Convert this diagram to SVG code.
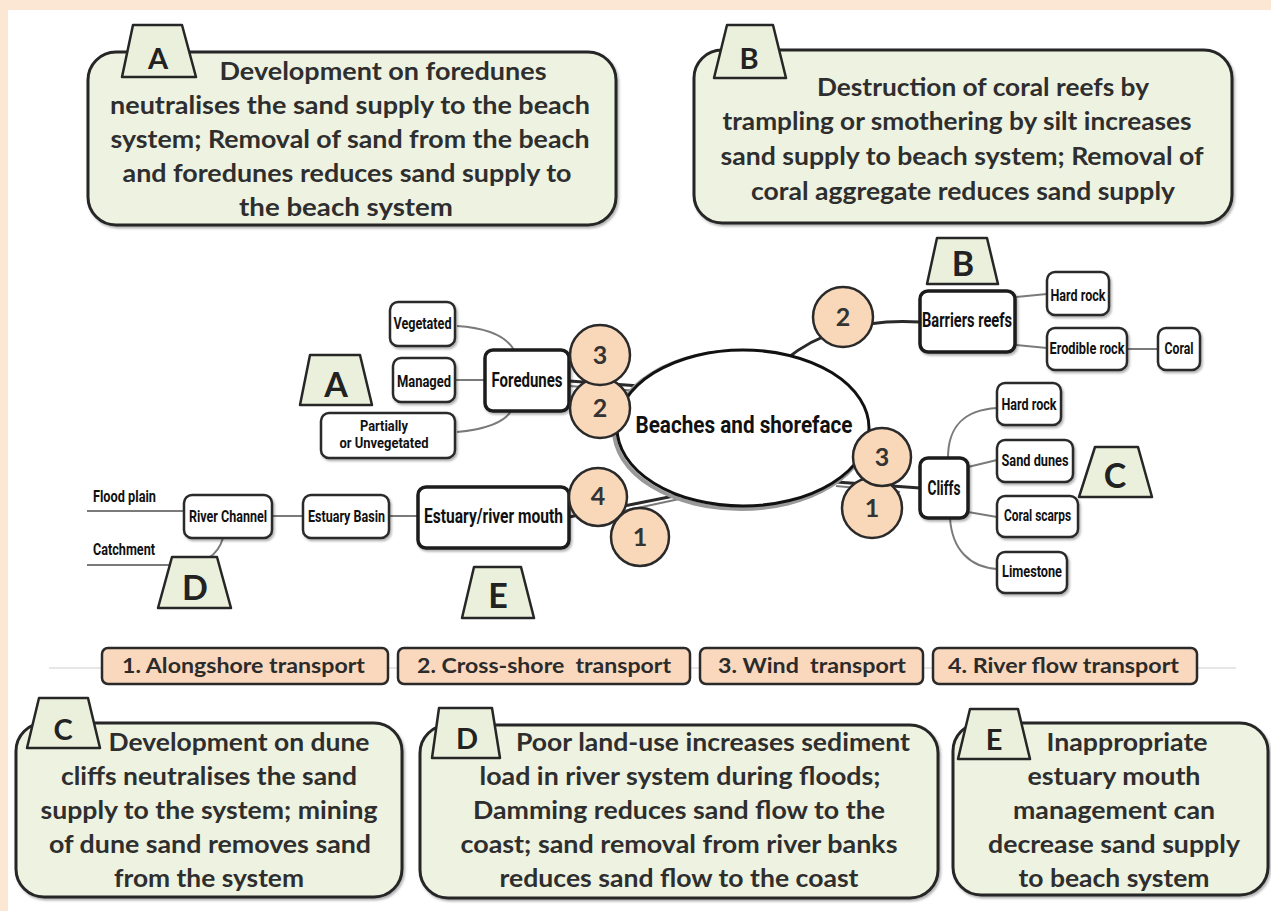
<svg xmlns="http://www.w3.org/2000/svg" width="1271" height="911" viewBox="0 0 1271 911">
<defs>
<filter id="sh" x="-10%" y="-10%" width="130%" height="140%">
<feDropShadow dx="1.5" dy="2" stdDeviation="1.2" flood-color="#000" flood-opacity="0.3"/>
</filter>
<style>
.big{fill:#EEF2E1;stroke:#262626;stroke-width:3}
.tab{fill:#EBF0DC;stroke:#262626;stroke-width:2.5;stroke-linejoin:round}
.bt{font-family:Lato,'Liberation Sans',sans-serif;font-weight:700;font-size:24px;fill:#2e2e2e;text-anchor:middle}
.tl{font-family:Lato,'Liberation Sans',sans-serif;font-weight:700;font-size:29px;fill:#222;text-anchor:middle}
.ml{font-family:Lato,'Liberation Sans',sans-serif;font-weight:700;font-size:34px;fill:#222;text-anchor:middle}
.nd{fill:#fff;stroke:#2a2a2a;stroke-width:2.5}
.nd2{fill:#fff;stroke:#1a1a1a;stroke-width:3.5}
.nl{font-family:'Liberation Sans Narrow',Roboto,sans-serif;font-weight:700;font-size:16px;fill:#111;text-anchor:middle}
.nl2{font-family:'Liberation Sans Narrow',Roboto,sans-serif;font-weight:700;font-size:20px;fill:#111;text-anchor:middle}
.cir{fill:#F9D7B9;stroke:#2a2a2a;stroke-width:2.5}
.dg{font-family:Lato,'Liberation Sans',sans-serif;font-weight:700;font-size:25px;fill:#333;text-anchor:middle}
.thin{fill:none;stroke:#7a7a7a;stroke-width:2}
.thick{fill:none;stroke:#2a2a2a;stroke-width:3}
.lg{fill:#FAD8BD;stroke:#2a2a2a;stroke-width:2.5}
.lt{font-family:Lato,'Liberation Sans',sans-serif;font-weight:700;font-size:20px;fill:#2b2b2b;text-anchor:middle}
</style>
</defs>
<rect width="1271" height="911" fill="#fff"/>
<rect width="1271" height="10" fill="#FCE7D4"/>
<rect width="8" height="911" fill="#FCE7D4"/>

<g id="boxA">
<rect class="big" x="88" y="52" width="528" height="173" rx="28" filter="url(#sh)"/>
<polygon class="tab" points="133,25 182,25 196,77 122,77"/>
<text class="tl" x="158" y="69">A</text>
<text class="bt" x="383" y="80" textLength="327" lengthAdjust="spacingAndGlyphs">Development on foredunes</text>
<text class="bt" x="350" y="114" textLength="480" lengthAdjust="spacingAndGlyphs">neutralises the sand supply to the beach</text>
<text class="bt" x="350" y="148" textLength="479" lengthAdjust="spacingAndGlyphs">system; Removal of sand from the beach</text>
<text class="bt" x="347" y="182" textLength="449" lengthAdjust="spacingAndGlyphs">and foredunes reduces sand supply to</text>
<text class="bt" x="346" y="216" textLength="214" lengthAdjust="spacingAndGlyphs">the beach system</text>
</g>

<g id="boxB">
<rect class="big" x="694" y="50" width="538" height="173" rx="28" filter="url(#sh)"/>
<polygon class="tab" points="727,25 773,25 786,78 714,78"/>
<text class="tl" x="749" y="69">B</text>
<text class="bt" x="983" y="96" textLength="332" lengthAdjust="spacingAndGlyphs">Destruction of coral reefs by</text>
<text class="bt" x="957" y="130" textLength="469" lengthAdjust="spacingAndGlyphs">trampling or smothering by silt increases</text>
<text class="bt" x="962" y="165" textLength="483" lengthAdjust="spacingAndGlyphs">sand supply to beach system; Removal of</text>
<text class="bt" x="963" y="200" textLength="424" lengthAdjust="spacingAndGlyphs">coral aggregate reduces sand supply</text>
</g>

<g id="connectors">
<path class="thin" d="M457,326 C488,328 506,336 514,350"/>
<path class="thin" d="M455,380 L485,380"/>
<path class="thin" d="M457,432 C488,429 505,421 511,411"/>
<path class="thin" d="M1015,297 L1047,294"/>
<path class="thin" d="M1015,345 L1047,348"/>
<path class="thin" d="M1127,349 L1158,349"/>
<path class="thin" d="M948,458 C948,425 965,410 997,408"/>
<path class="thin" d="M968,467 L997,460"/>
<path class="thin" d="M968,512 L997,517"/>
<path class="thin" d="M950,518 C952,550 970,567 997,569"/>
<path class="thin" d="M87,511 L184,511"/>
<path class="thin" d="M87,565 L180,565 C205,565 218,555 223,538"/>
<path class="thin" d="M272,516 L303,516"/>
<path class="thin" d="M389,516 L418,516"/>
<path class="thick" d="M569,381 L640,386"/>
<path class="thin" d="M569,386 L640,391"/>
<path class="thick" d="M569,517 L684,494"/>
<path class="thin" d="M600,516 L684,498"/>
<path class="thick" d="M785,360 C815,335 860,318 920,322"/>
<path class="thick" d="M836,482 L920,488"/>
<path class="thin" d="M836,486 L900,492"/>
</g>

<g id="center">
<ellipse cx="741" cy="430" rx="127" ry="79" fill="none" stroke="#999" stroke-width="4"/>
<ellipse cx="743" cy="428" rx="126" ry="78" fill="#fff" stroke="#111" stroke-width="3"/>
<text class="nl2" x="744" y="433" textLength="217" lengthAdjust="spacingAndGlyphs" style="font-size:23px">Beaches and shoreface</text>
</g>

<g id="foredunes">
<rect class="nd" x="390" y="302" width="65" height="44" rx="8" filter="url(#sh)"/>
<text class="nl" x="422.5" y="329" textLength="58" lengthAdjust="spacingAndGlyphs">Vegetated</text>
<rect class="nd" x="393" y="358" width="62" height="44" rx="8" filter="url(#sh)"/>
<text class="nl" x="424" y="387" textLength="54" lengthAdjust="spacingAndGlyphs">Managed</text>
<rect class="nd" x="321" y="413" width="134" height="45" rx="8" filter="url(#sh)"/>
<text class="nl" x="384" y="431" textLength="48" lengthAdjust="spacingAndGlyphs" style="font-size:14px">Partially</text>
<text class="nl" x="384" y="448" textLength="89" lengthAdjust="spacingAndGlyphs" style="font-size:14px">or Unvegetated</text>
<rect class="nd2" x="485" y="350" width="84" height="61" rx="8" filter="url(#sh)"/>
<text class="nl2" x="527" y="387" textLength="71" lengthAdjust="spacingAndGlyphs">Foredunes</text>
<polygon class="tab" points="310,355 360,355 372,405 300,405"/>
<text class="ml" x="336" y="397">A</text>
<circle class="cir" cx="600" cy="408" r="30"/>
<text class="dg" x="600" y="417">2</text>
<circle class="cir" cx="600" cy="355" r="30"/>
<text class="dg" x="600" y="364">3</text>
</g>

<g id="barriers">
<circle class="cir" cx="843" cy="317" r="30"/>
<text class="dg" x="843" y="326">2</text>
<rect class="nd2" x="920" y="291" width="95" height="61" rx="8" filter="url(#sh)"/>
<text class="nl2" x="967" y="327" textLength="90" lengthAdjust="spacingAndGlyphs">Barriers reefs</text>
<polygon class="tab" points="937,238 987,238 998,284 927,284"/>
<text class="ml" x="963" y="276">B</text>
<rect class="nd" x="1047" y="272" width="62" height="43" rx="8" filter="url(#sh)"/>
<text class="nl" x="1078" y="301" textLength="55" lengthAdjust="spacingAndGlyphs">Hard rock</text>
<rect class="nd" x="1047" y="328" width="80" height="42" rx="8" filter="url(#sh)"/>
<text class="nl" x="1087" y="354" textLength="75" lengthAdjust="spacingAndGlyphs">Erodible rock</text>
<rect class="nd" x="1158" y="328" width="42" height="42" rx="8" filter="url(#sh)"/>
<text class="nl" x="1179" y="354" textLength="29" lengthAdjust="spacingAndGlyphs">Coral</text>
</g>

<g id="cliffs">
<circle class="cir" cx="872" cy="508" r="30"/>
<text class="dg" x="872" y="517">1</text>
<circle class="cir" cx="882" cy="457" r="29"/>
<text class="dg" x="882" y="466">3</text>
<rect class="nd2" x="920" y="458" width="48" height="60" rx="8" filter="url(#sh)"/>
<text class="nl2" x="944" y="495" textLength="33" lengthAdjust="spacingAndGlyphs">Cliffs</text>
<rect class="nd" x="997" y="383" width="64" height="42" rx="8" filter="url(#sh)"/>
<text class="nl" x="1029" y="410" textLength="55" lengthAdjust="spacingAndGlyphs">Hard rock</text>
<rect class="nd" x="997" y="440" width="76" height="42" rx="8" filter="url(#sh)"/>
<text class="nl" x="1035" y="466" textLength="67" lengthAdjust="spacingAndGlyphs">Sand dunes</text>
<rect class="nd" x="997" y="496" width="81" height="41" rx="8" filter="url(#sh)"/>
<text class="nl" x="1037.5" y="521" textLength="67" lengthAdjust="spacingAndGlyphs">Coral scarps</text>
<rect class="nd" x="997" y="552" width="70" height="41" rx="8" filter="url(#sh)"/>
<text class="nl" x="1032" y="577" textLength="60" lengthAdjust="spacingAndGlyphs">Limestone</text>
<polygon class="tab" points="1095,447 1138,447 1152,497 1079,497"/>
<text class="ml" x="1115" y="488">C</text>
</g>

<g id="estuary">
<text class="nl" x="124.5" y="502" textLength="63" lengthAdjust="spacingAndGlyphs">Flood plain</text>
<text class="nl" x="124" y="555" textLength="62" lengthAdjust="spacingAndGlyphs">Catchment</text>
<rect class="nd" x="184" y="495" width="88" height="43" rx="8" filter="url(#sh)"/>
<text class="nl" x="228" y="522" textLength="78" lengthAdjust="spacingAndGlyphs">River Channel</text>
<rect class="nd" x="303" y="495" width="86" height="43" rx="8" filter="url(#sh)"/>
<text class="nl" x="346.5" y="522" textLength="77" lengthAdjust="spacingAndGlyphs">Estuary Basin</text>
<rect class="nd2" x="418" y="487" width="151" height="61" rx="8" filter="url(#sh)"/>
<text class="nl2" x="493.5" y="523" textLength="139" lengthAdjust="spacingAndGlyphs">Estuary/river mouth</text>
<polygon class="tab" points="172,557 217,557 231,608 158,608"/>
<text class="ml" x="195" y="600">D</text>
<polygon class="tab" points="474,567 521,567 534,618 462,618"/>
<text class="ml" x="498" y="608">E</text>
<circle class="cir" cx="598" cy="497" r="29"/>
<text class="dg" x="598" y="505">4</text>
<circle class="cir" cx="640" cy="537" r="29"/>
<text class="dg" x="640" y="546">1</text>
</g>

<g id="legend">
<path d="M49,668 L1236,668" stroke="#e6e6e6" stroke-width="2"/>
<rect class="lg" x="102" y="648" width="286" height="36" rx="6"/>
<text class="lt" x="243.5" y="673" textLength="243" lengthAdjust="spacingAndGlyphs">1. Alongshore transport</text>
<rect class="lg" x="398" y="648" width="292" height="36" rx="6"/>
<text class="lt" x="544" y="673" textLength="254" lengthAdjust="spacingAndGlyphs" xml:space="preserve">2. Cross-shore  transport</text>
<rect class="lg" x="700" y="648" width="223" height="36" rx="6"/>
<text class="lt" x="812" y="673" textLength="188" lengthAdjust="spacingAndGlyphs" xml:space="preserve">3. Wind  transport</text>
<rect class="lg" x="933" y="648" width="264" height="36" rx="6"/>
<text class="lt" x="1063.5" y="673" textLength="231" lengthAdjust="spacingAndGlyphs">4. River flow transport</text>
</g>

<g id="boxC">
<rect class="big" x="16" y="723" width="386" height="174" rx="28" filter="url(#sh)"/>
<polygon class="tab" points="39,698 88,698 100,748 27,748"/>
<text class="tl" x="63" y="740">C</text>
<text class="bt" x="239" y="751" textLength="261" lengthAdjust="spacingAndGlyphs">Development on dune</text>
<text class="bt" x="209" y="785" textLength="296" lengthAdjust="spacingAndGlyphs">cliffs neutralises the sand</text>
<text class="bt" x="209" y="819" textLength="337" lengthAdjust="spacingAndGlyphs">supply to the system; mining</text>
<text class="bt" x="210" y="853" textLength="322" lengthAdjust="spacingAndGlyphs">of dune sand removes sand</text>
<text class="bt" x="209" y="887" textLength="190" lengthAdjust="spacingAndGlyphs">from the system</text>
</g>

<g id="boxD">
<rect class="big" x="420" y="725" width="518" height="173" rx="28" filter="url(#sh)"/>
<polygon class="tab" points="439,708 492,708 500,758 432,758"/>
<text class="tl" x="467" y="749">D</text>
<text class="bt" x="713" y="751" textLength="394" lengthAdjust="spacingAndGlyphs">Poor land-use increases sediment</text>
<text class="bt" x="680" y="785" textLength="401" lengthAdjust="spacingAndGlyphs">load in river system during floods;</text>
<text class="bt" x="679" y="819" textLength="412" lengthAdjust="spacingAndGlyphs">Damming reduces sand flow to the</text>
<text class="bt" x="679" y="853" textLength="437" lengthAdjust="spacingAndGlyphs">coast; sand removal from river banks</text>
<text class="bt" x="679" y="887" textLength="359" lengthAdjust="spacingAndGlyphs">reduces sand flow to the coast</text>
</g>

<g id="boxE">
<rect class="big" x="953" y="723" width="315" height="172" rx="28" filter="url(#sh)"/>
<polygon class="tab" points="970,709 1018,709 1030,759 958,759"/>
<text class="tl" x="994" y="750">E</text>
<text class="bt" x="1127" y="751" textLength="161" lengthAdjust="spacingAndGlyphs">Inappropriate</text>
<text class="bt" x="1114" y="785" textLength="173" lengthAdjust="spacingAndGlyphs">estuary mouth</text>
<text class="bt" x="1114" y="819" textLength="202" lengthAdjust="spacingAndGlyphs">management can</text>
<text class="bt" x="1114" y="853" textLength="252" lengthAdjust="spacingAndGlyphs">decrease sand supply</text>
<text class="bt" x="1114" y="887" textLength="191" lengthAdjust="spacingAndGlyphs">to beach system</text>
</g>
</svg>
